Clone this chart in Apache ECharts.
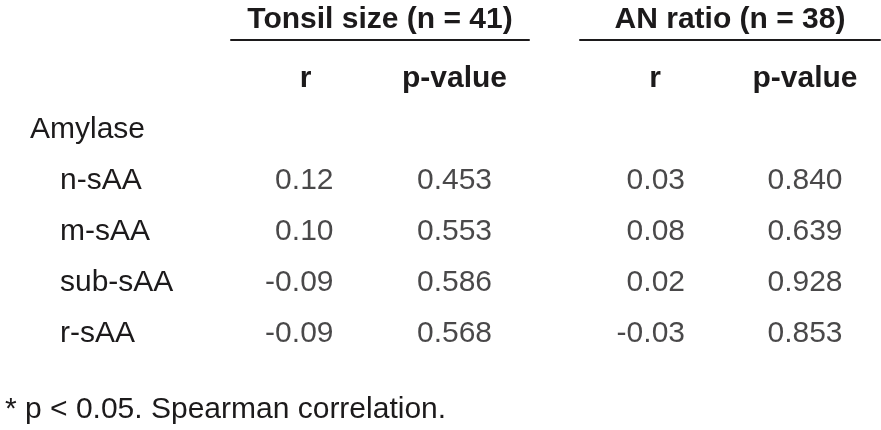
<!DOCTYPE html>
<html>
<head>
<meta charset="utf-8">
<script src="https://cdn.jsdelivr.net/npm/echarts@6/dist/echarts.min.js"></script>
<style>
  html, body { margin: 0; padding: 0; background: #ffffff; }
  #chart { width: 881px; height: 430px; }
</style>
</head>
<body>
<div id="chart"></div>
<script>
// ---- data ----
const groupTitles = ['Tonsil size (n = 41)', 'AN ratio (n = 38)'];
const columnHeaders = ['r', 'p-value'];
const groupLabel = 'Amylase';
const rowLabels = ['n-sAA', 'm-sAA', 'sub-sAA', 'r-sAA'];
const tonsilR = [0.12, 0.10, -0.09, -0.09];
const tonsilP = [0.453, 0.553, 0.586, 0.568];
const anR = [0.03, 0.08, 0.02, -0.03];
const anP = [0.840, 0.639, 0.928, 0.853];
const footnote = '* p < 0.05. Spearman correlation.';

// ---- build ----
const FONT = '"Liberation Sans", Arial, Helvetica, sans-serif';
const INK = '#1c1a1b';
const FS = 30;
const yCategories = ['', groupLabel].concat(rowLabels);

function cells(col, values) {
  return values.map((v, i) => [col, rowLabels[i], v]);
}

function xAxisFor(gridIndex, title) {
  return {
    type: 'category', gridIndex: gridIndex, data: columnHeaders,
    position: 'top', offset: 13.5,
    axisLine: { show: true, lineStyle: { color: INK, width: 2 } },
    axisTick: { show: false },
    splitLine: { show: false },
    axisLabel: { inside: true, margin: 24, color: INK, fontFamily: FONT, fontSize: FS, fontWeight: 'bold' },
    name: title, nameLocation: 'middle', nameGap: 5,
    nameTextStyle: { color: INK, fontFamily: FONT, fontSize: FS, fontWeight: 'bold' }
  };
}

function yAxisFor(gridIndex, showLabels) {
  return {
    type: 'category', gridIndex: gridIndex, data: yCategories, inverse: true,
    axisLine: { show: false }, axisTick: { show: false }, splitLine: { show: false },
    axisLabel: {
      show: showLabels, align: 'left', margin: 201, color: INK, fontFamily: FONT, fontSize: FS,
      formatter: function (v) { return (v === groupLabel || v === '') ? v : '{sub|' + v + '}'; },
      rich: { sub: { padding: [0, 0, 0, 30], color: INK, fontFamily: FONT, fontSize: FS } }
    }
  };
}

function valueSeries(axisIndex, col, values, digits, align, offsetX) {
  return {
    type: 'scatter', xAxisIndex: axisIndex, yAxisIndex: axisIndex,
    data: cells(col, values), encode: { x: 0, y: 1 },
    symbolSize: 1, itemStyle: { color: 'rgba(0,0,0,0)' }, silent: true,
    label: {
      show: true, position: 'inside', align: align, verticalAlign: 'middle', offset: [offsetX, 0],
      color: INK, fontFamily: FONT, fontSize: FS,
      formatter: function (p) { return p.value[2].toFixed(digits); }
    }
  };
}

const option = {
  backgroundColor: '#ffffff',
  animation: false,
  title: {
    text: footnote, left: 0, top: 390,
    textStyle: { color: INK, fontFamily: FONT, fontSize: FS, fontWeight: 'normal' }
  },
  grid: [
    { left: 231, width: 298, top: 53.5, bottom: 70.5 },
    { left: 580, width: 300, top: 53.5, bottom: 70.5 }
  ],
  xAxis: [xAxisFor(0, groupTitles[0]), xAxisFor(1, groupTitles[1])],
  yAxis: [yAxisFor(0, true), yAxisFor(1, false)],
  series: [
    valueSeries(0, columnHeaders[0], tonsilR, 2, 'right', 28),
    valueSeries(0, columnHeaders[1], tonsilP, 3, 'center', 0),
    valueSeries(1, columnHeaders[0], anR, 2, 'right', 30),
    valueSeries(1, columnHeaders[1], anP, 3, 'center', 0)
  ]
};

const chart = echarts.init(document.getElementById('chart'), null, { renderer: 'canvas' });
chart.setOption(option);
</script>
</body>
</html>
